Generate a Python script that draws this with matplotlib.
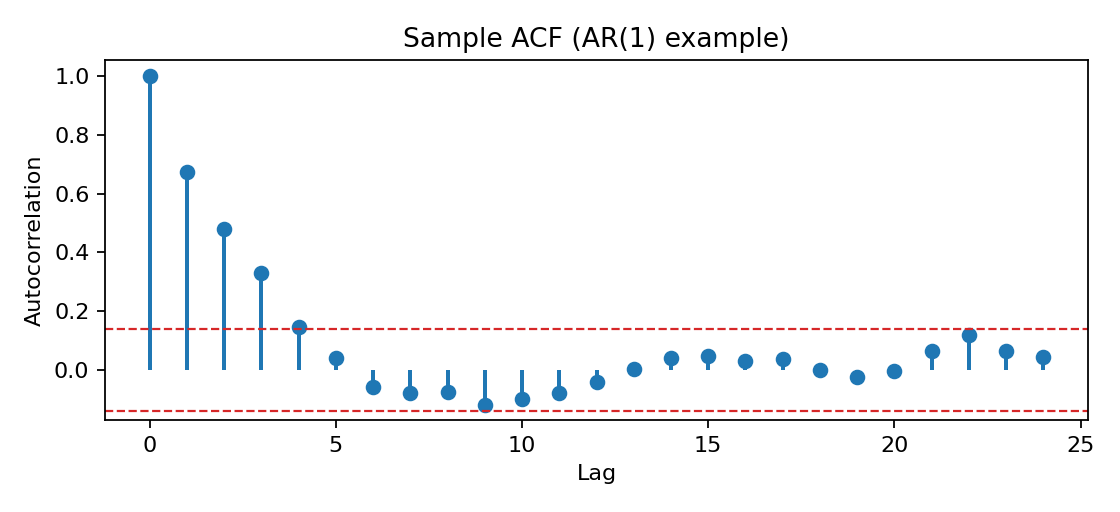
import matplotlib
matplotlib.use("Agg")
import matplotlib.pyplot as plt
import numpy as np

lags = list(range(25))
acf = [1.0, 0.675, 0.48, 0.33, 0.148, 0.042, -0.058, -0.078, -0.075, -0.118,
       -0.097, -0.078, -0.042, 0.003, 0.042, 0.048, 0.032, 0.038, 0.0, -0.025,
       -0.003, 0.065, 0.12, 0.065, 0.045]
conf = 0.14

fig = plt.figure(figsize=(7, 3.2), dpi=160)
ax = fig.add_axes([105/1120, 1-420/512, (1088-105)/1120, (420-60)/512])
ax.vlines(lags, 0, acf, color="#1f77b4", linewidth=1.8)
ax.plot(lags, acf, "o", color="#1f77b4", markersize=6)
ax.axhline(conf, color="#d62728", linestyle="--", linewidth=1)
ax.axhline(-conf, color="#d62728", linestyle="--", linewidth=1)
ax.set_xlim(-1.2, 25.2)
ax.set_ylim(-0.17, 1.055)
ax.set_title("Sample ACF (AR(1) example)", fontsize=12)
ax.set_xlabel("Lag", fontsize=10)
ax.set_ylabel("Autocorrelation", fontsize=10)
ax.tick_params(labelsize=10)
fig.savefig("out.png", dpi=160)
